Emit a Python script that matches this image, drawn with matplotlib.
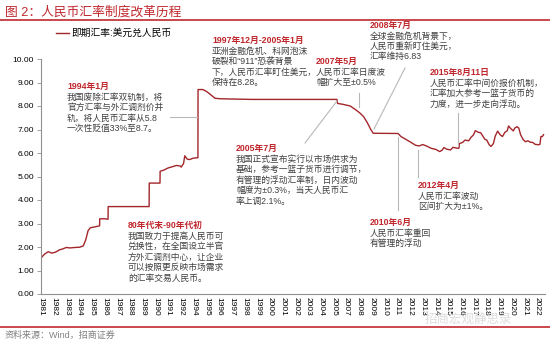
import numpy as np
import matplotlib
matplotlib.use("Agg")
import matplotlib.pyplot as plt
from matplotlib.lines import Line2D

plt.rcParams['font.family'] = ['Liberation Sans', 'Noto Sans CJK SC', 'DejaVu Sans']

W, H = 550, 343
RED = "#C0272D"
LINE = "#A3262B"
GREY_TXT = "#404040"
LEADER = "#b8b8b8"

# --- data: USD/CNY spot (decimal year, rate) ---
t = [1981.00, 1981.3, 1981.6, 1981.9, 1982.2, 1982.5, 1982.8, 1983.1, 1983.4, 1983.8,
     1984.2, 1984.5, 1984.7, 1984.9, 1985.1, 1985.5, 1985.85, 1985.86, 1986.3, 1986.55,
     1986.56, 1989.95, 1989.96, 1990.85, 1990.86, 1991.2, 1991.5, 1991.9, 1992.2, 1992.5,
     1992.6, 1992.8, 1992.9, 1993.1, 1993.3, 1993.6, 1993.99, 1994.0, 1994.4, 1994.7,
     1995.0, 1995.4, 1995.8, 1996.5, 1997.5, 1998.5, 2005.5, 2005.55, 2006.0, 2006.6,
     2007.1, 2007.4, 2007.7, 2008.0, 2008.3, 2008.5, 2010.55, 2010.8, 2011.2, 2011.6,
     2012.0, 2012.3, 2012.6, 2012.9, 2013.3, 2013.7, 2014.0, 2014.2, 2014.35, 2014.6,
     2014.9, 2015.1, 2015.5, 2015.6, 2015.63, 2015.9, 2016.1, 2016.4, 2016.6, 2016.8,
     2016.95, 2017.2, 2017.4, 2017.6, 2017.75, 2017.9, 2018.1, 2018.25, 2018.45, 2018.6,
     2018.8, 2019.0, 2019.2, 2019.4, 2019.6, 2019.7, 2019.9, 2020.1, 2020.2, 2020.4,
     2020.55, 2020.7, 2020.9, 2021.1, 2021.3, 2021.5, 2021.7, 2021.9, 2022.2, 2022.3,
     2022.38, 2022.5, 2022.6]
rate = [1.53, 1.70, 1.80, 1.74, 1.78, 1.87, 1.92, 1.98, 1.96, 1.98,
        1.99, 2.05, 2.30, 2.70, 2.82, 2.86, 2.90, 3.20, 3.20, 3.18,
        3.72, 3.72, 4.72, 4.72, 5.22, 5.28, 5.36, 5.42, 5.47, 5.45,
        5.40, 5.55, 5.88, 5.74, 5.72, 5.78, 5.80, 8.70, 8.70, 8.62,
        8.50, 8.33, 8.31, 8.30, 8.29, 8.28, 8.28, 8.11, 8.07, 8.00,
        7.82, 7.70, 7.55, 7.30, 7.00, 6.84, 6.83, 6.70, 6.58, 6.46,
        6.33, 6.30, 6.36, 6.30, 6.20, 6.15, 6.06, 6.12, 6.23, 6.16,
        6.13, 6.24, 6.20, 6.21, 6.40, 6.45, 6.55, 6.52, 6.67, 6.77,
        6.95, 6.88, 6.86, 6.70, 6.58, 6.55, 6.35, 6.28, 6.40, 6.72,
        6.93, 6.78, 6.70, 6.88, 6.95, 7.15, 7.03, 6.94, 7.05, 7.12,
        7.06, 6.78, 6.58, 6.48, 6.52, 6.46, 6.45, 6.37, 6.35, 6.37,
        6.70, 6.70, 6.78]

# category-style year labels as printed (1993 and 2006 are skipped)
year_labels = [str(y) for y in range(1981, 1993)] + \
              [str(y) for y in range(1994, 2006)] + \
              [str(y) for y in range(2007, 2023)]
y_ticks = np.arange(0, 11, 1)

series_name = "即期汇率:美元兑人民币"

# annotations: (x px, header y px, header, body lines)
notes = [
    (67, 86, "1994年1月", ["我国废除汇率双轨制，将", "官方汇率与外汇调剂价并",
                          "轨，将人民币汇率从5.8", "一次性贬值33%至8.7。"]),
    (212, 40, "1997年12月-2005年1月", ["亚洲金融危机、科网泡沫", "破裂和\u201c911\u201d恐袭背景",
                                     "下，人民币汇率盯住美元，", "保持在8.28。"]),
    (316, 61, "2007年5月", ["人民币汇率日度波", "幅扩大至±0.5%"]),
    (370, 25, "2008年7月", ["全球金融危机背景下，", "人民币重新盯住美元，", "汇率维持6.83"]),
    (430, 72, "2015年8月11日", ["人民币汇率中间价报价机制，", "汇率加大参考一篮子货币的",
                              "力度，进一步走向浮动。"]),
    (236, 148, "2005年7月", ["我国正式宣布实行以市场供求为", "基础，参考一篮子货币进行调节，",
                            "有管理的浮动汇率制，日内波动", "幅度为±0.3%，当天人民币汇",
                            "率上调2.1%。"]),
    (128, 225, "80年代末-90年代初", ["我国致力于提高人民币可", "兑换性，在全国设立半官",
                                   "方外汇调剂中心，让企业", "可以按照更反映市场需求",
                                   "的汇率交易人民币。"]),
    (370, 222, "2010年6月", ["人民币汇率重回", "有管理的浮动"]),
    (418, 185, "2012年4月", ["人民币汇率波动", "区间扩大为±1%。"]),
]
# leader lines in px: (x0, y0, x1, y1)
leaders = [(170, 117, 197, 117), (359, 93, 359, 107), (405, 68, 374, 129),
           (458, 113, 458, 146), (305, 143, 337, 101), (398, 137, 398, 210),
           (418, 150, 418, 177)]


def fx(x):
    return x / W


def fy(y):
    return 1 - y / H


fig = plt.figure(figsize=(W / 100, H / 100), dpi=100)
ax = fig.add_axes([fx(41), fy(294), (545 - 41) / W, (294 - 59) / H])

ax.plot(t, rate, color=LINE, lw=1.0, label=series_name)
ax.set_xlim(1981.0, 2022.72)
ax.set_ylim(0, 10)
ax.set_yticks(y_ticks)
ax.set_yticklabels([f"{v:.2f}" for v in y_ticks], fontsize=6)
ax.set_xticks(np.linspace(1981.0, 2022.1, len(year_labels)))
ax.set_xticklabels(year_labels, rotation=-90, fontsize=6, va="top", ha="center")
for s in ("top", "right"):
    ax.spines[s].set_visible(False)
for s in ("left", "bottom"):
    ax.spines[s].set_color("#909090")
    ax.spines[s].set_linewidth(0.8)
ax.tick_params(axis="y", length=3, width=0.6, color="#909090", pad=2)
ax.tick_params(axis="x", length=0, pad=2)

# title band
fig.text(fx(5), fy(12), "图 2：人民币汇率制度改革历程", color=RED, fontsize=9.2,
         va="center", ha="left")
fig.add_artist(Line2D([0, 1], [fy(20), fy(20)], color=RED, lw=1.2))
fig.add_artist(Line2D([0, 1], [fy(327), fy(327)], color=RED, lw=1.2))
fig.text(fx(5), fy(335), "资料来源：Wind，招商证券", color="#808080", fontsize=6.5,
         va="center", ha="left")
# faint watermark, sits over the year labels as in the source
fig.text(fx(425), fy(320), "招商宏观静思录", color="#dcdcdc", fontsize=9,
         va="center", ha="left", zorder=0)

fig.legend(loc="center left", bbox_to_anchor=(fx(56), fy(33)), frameon=False,
           fontsize=7, handlelength=1.3, handletextpad=0.3, borderpad=0,
           borderaxespad=0)

for x0, y0, x1, y1 in leaders:
    fig.add_artist(Line2D([fx(x0), fx(x1)], [fy(y0), fy(y1)], color=LEADER, lw=0.8))

for x, yh, head, lines in notes:
    fig.text(fx(x), fy(yh), head, color=RED, fontsize=6.3, fontweight="bold",
             va="center", ha="left")
    for i, ln in enumerate(lines):
        fig.text(fx(x), fy(yh + 11 + i * 10.5), ln, color=GREY_TXT, fontsize=6.3,
                 va="center", ha="left")

fig.savefig("out.png", dpi=100)
